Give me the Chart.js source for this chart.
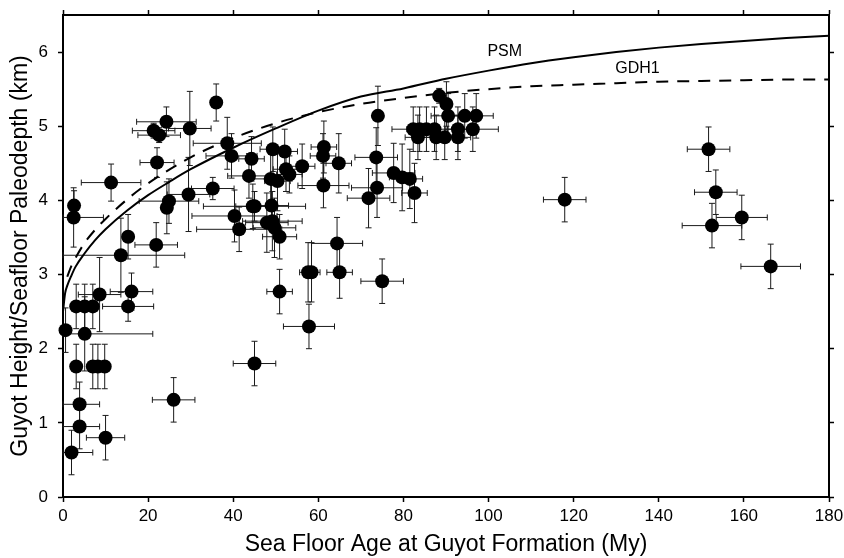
<!DOCTYPE html>
<html>
<head>
<meta charset="utf-8">
<script src="https://cdn.jsdelivr.net/npm/chart.js@4.4.1/dist/chart.umd.min.js"></script>
<style>
    html, body { margin: 0; padding: 0; background: #fff; }
</style>
</head>
<body>
<canvas id="guyotChart" width="844" height="558"></canvas>
<script>
// guyot data
const ages = [0.6, 2.0, 3.9, 3.9, 10.0, 3.1, 7.0, 8.2, 9.8, 5.1,
    3.1, 5.1, 7.0, 15.3, 8.6, 16.1, 13.6, 15.3, 21.9, 2.6,
    2.5, 11.3, 21.3, 22.6, 22.1, 24.3, 24.9, 24.4, 29.8, 29.5,
    26.0, 36.0, 35.2, 38.6, 39.6, 40.3, 41.4, 45.0, 43.7, 44.3,
    49.3, 52.1, 52.4, 53.2, 48.8, 50.4, 56.2, 61.3, 61.1, 64.8,
    61.2, 44.6, 49.0, 47.9, 49.2, 49.7, 50.9, 64.4, 57.6, 58.4,
    65.0, 50.9, 57.8, 45.0, 75.0, 74.0, 73.6, 77.7, 79.7, 81.5,
    73.8, 71.8, 82.6, 88.4, 90.1, 90.5, 94.4, 97.1, 82.3, 83.8,
    85.4, 87.3, 92.8, 96.3, 83.4, 87.7, 89.7, 92.8, 117.9, 151.7,
    153.4, 152.5, 159.5, 166.3];
const depths = [2.25, 0.60, 0.95, 1.25, 0.80, 1.76, 1.76, 1.76, 1.76, 2.20,
    2.57, 2.57, 2.57, 2.57, 2.73, 2.77, 3.26, 3.51, 3.40, 3.93,
    3.77, 4.24, 4.94, 4.88, 4.51, 5.06, 3.99, 3.90, 4.97, 4.08,
    1.31, 5.32, 4.16, 4.77, 4.60, 3.79, 3.61, 3.92, 4.33, 4.56,
    4.69, 4.66, 4.42, 4.35, 4.29, 4.26, 4.46, 4.72, 4.60, 4.50,
    4.20, 3.92, 3.93, 3.70, 3.72, 3.63, 3.51, 3.42, 3.03, 3.03,
    3.03, 2.77, 2.30, 1.80, 2.91, 5.14, 4.58, 4.37, 4.31, 4.29,
    4.17, 4.03, 4.10, 5.41, 5.30, 5.14, 5.14, 5.14, 4.96, 4.96,
    4.96, 4.96, 4.96, 4.96, 4.85, 4.85, 4.85, 4.85, 4.01, 4.69,
    4.11, 3.66, 3.77, 3.11];
const ageErr = [0, 5.0, 4.7, 4.7, 4.5, 0, 0, 0, 0, 16,
    0, 0, 0, 6, 5, 5, 15, 0, 5, 0,
    7, 7, 5, 5, 4, 7, 7, 0, 5, 5,
    5, 0, 5, 8, 6, 10, 10, 12, 5, 3,
    3, 3, 3, 3, 5, 3, 3, 3, 3, 3,
    6, 4, 4, 5, 7, 5, 4, 6, 2, 2,
    3, 3, 6, 5, 5, 0, 5, 5, 3, 3,
    6, 5, 3, 0, 0, 4, 4, 4, 5, 3,
    3, 3, 3, 6, 3, 3, 3, 3, 5, 5,
    5, 7, 6, 7];
const depthErr = [0.3, 0.3, 0.3, 0.3, 0.3, 0.3, 0.3, 0.3, 0.3, 0.5,
    0.3, 0.3, 0.3, 0.2, 0.5, 0.25, 0.5, 0.3, 0.3, 0.2,
    0.4, 0.25, 0.1, 0.1, 0.2, 0.2, 0.3, 0.35, 0.5, 0.5,
    0.3, 0.25, 0.15, 0.35, 0.3, 0.35, 0.3, 0.2, 0.3, 0.3,
    0.3, 0.3, 0.3, 0.25, 0.35, 0.4, 0.3, 0.35, 0.3, 0.4,
    0.3, 0.3, 0.3, 0.4, 0.4, 0.4, 0.3, 0.35, 0.4, 0.4,
    0.35, 0.3, 0.3, 0.3, 0.3, 0.4, 0.4, 0.4, 0.45, 0.4,
    0.4, 0.4, 0.4, 0.1, 0.3, 0.3, 0.3, 0.3, 0.3, 0.3,
    0.3, 0.3, 0.3, 0.3, 0.3, 0.3, 0.3, 0.3, 0.3, 0.3,
    0.3, 0.3, 0.3, 0.3];

// model curves, also
const psmAge = [0, 0.5, 1, 2, 3, 5, 7.5, 10, 15, 20, 25, 30, 40, 50, 60, 70, 80, 90, 100, 110, 120, 130, 140, 150, 160, 170, 180];
const psmDepth = [2.50, 2.75, 2.85, 2.99, 3.11, 3.28, 3.46, 3.61, 3.86, 4.07, 4.25, 4.42, 4.71, 4.97, 5.21, 5.40, 5.51, 5.64, 5.75, 5.85, 5.93, 6.00, 6.06, 6.11, 6.15, 6.19, 6.22];
const gdhAge = [1, 2, 3, 5, 7.5, 10, 15, 20, 30, 40, 50, 60, 70, 80, 90, 100, 110, 120, 130, 140, 150, 160, 170, 180];
const gdhDepth = [2.97, 3.12, 3.23, 3.42, 3.60, 3.75, 4.01, 4.23, 4.58, 4.84, 5.04, 5.19, 5.30, 5.38, 5.45, 5.50, 5.54, 5.56, 5.58, 5.60, 5.61, 5.62, 5.63, 5.63];

const xTicks = [0, 20, 40, 60, 80, 100, 120, 140, 160, 180];
const yTicks = [0, 1, 2, 3, 4, 5, 6];
const curveNames = ['PSM', 'GDH1'];
const curveLabelAge = [103.8, 135.0];
const curveLabelDepth = [6.0, 5.78];

const FONT = "'Liberation Sans', Arial, sans-serif";

const errorBars = {
    id: 'errorBars',
    beforeDatasetsDraw(chart) {
        const xs = chart.scales.x, ys = chart.scales.y;
        const ctx = chart.ctx;
        const cap = 3;
        ctx.save();
        ctx.strokeStyle = '#1a1a1a';
        ctx.lineWidth = 1;
        ages.forEach((a, i) => {
            const px = xs.getPixelForValue(a);
            const py = ys.getPixelForValue(depths[i]);
            ctx.beginPath();
            if (ageErr[i] > 0) {
                const x0 = xs.getPixelForValue(Math.max(0, a - ageErr[i]));
                const x1 = xs.getPixelForValue(a + ageErr[i]);
                ctx.moveTo(x0, py); ctx.lineTo(x1, py);
                ctx.moveTo(x0, py - cap); ctx.lineTo(x0, py + cap);
                ctx.moveTo(x1, py - cap); ctx.lineTo(x1, py + cap);
            }
            if (depthErr[i] > 0) {
                const y0 = ys.getPixelForValue(depths[i] - depthErr[i]);
                const y1 = ys.getPixelForValue(depths[i] + depthErr[i]);
                ctx.moveTo(px, y0); ctx.lineTo(px, y1);
                ctx.moveTo(px - cap, y0); ctx.lineTo(px + cap, y0);
                ctx.moveTo(px - cap, y1); ctx.lineTo(px + cap, y1);
            }
            ctx.stroke();
        });
        ctx.restore();
    },
    afterDatasetsDraw(chart) {
        const xs = chart.scales.x, ys = chart.scales.y;
        const ctx = chart.ctx;
        ctx.save();
        ctx.fillStyle = '#000';
        ctx.font = '16px ' + FONT;
        ctx.textAlign = 'center';
        ctx.textBaseline = 'middle';
        curveNames.forEach((n, i) => {
            ctx.fillText(n, xs.getPixelForValue(curveLabelAge[i]), ys.getPixelForValue(curveLabelDepth[i]));
        });
        ctx.restore();
    }
};

function axisStyle(extra) {
    return Object.assign({
        type: 'linear',
        border: { display: true, color: '#000', width: 2 },
        grid: { drawOnChartArea: false, drawTicks: true, tickLength: 5, tickWidth: 1.5, tickColor: '#000' },
    }, extra);
}

// fixed box sizes so the plot frame lands where the figure has it
function boxSize(w, h) {
    return s => {
        if (w !== null) s.width = w;
        if (h !== null) s.height = h;
        s.paddingTop = 0; s.paddingBottom = 0;
        s.paddingLeft = 0; s.paddingRight = 0;
    };
}

const blank = () => '';

new Chart(document.getElementById('guyotChart'), {
    type: 'scatter',
    data: {
        datasets: [
            {
                data: ages.map((a, i) => ({ x: a, y: depths[i] })),
                backgroundColor: '#000',
                borderWidth: 0,
                pointRadius: 7,
                pointHoverRadius: 7,
                clip: false,
                order: 0
            },
            {
                data: psmAge.map((a, i) => ({ x: a, y: psmDepth[i] })),
                showLine: true,
                borderColor: '#000',
                borderWidth: 2,
                pointRadius: 0,
                cubicInterpolationMode: 'monotone',
                order: 1
            },
            {
                data: gdhAge.map((a, i) => ({ x: a, y: gdhDepth[i] })),
                showLine: true,
                borderColor: '#000',
                borderWidth: 2,
                borderDash: [12, 9],
                pointRadius: 0,
                cubicInterpolationMode: 'monotone',
                order: 1
            }
        ]
    },
    options: {
        responsive: false,
        animation: false,
        layout: { padding: 0, autoPadding: false },
        scales: {
            x: axisStyle({
                position: 'bottom', min: 0, max: 180,
                afterBuildTicks: s => { s.ticks = xTicks.map(v => ({ value: v })); },
                afterFit: boxSize(null, 61),
                ticks: { color: '#000', padding: 4, maxRotation: 0, font: { family: FONT, size: 17 } },
                title: { display: true, text: 'Sea Floor Age at Guyot Formation (My)', color: '#000', padding: 0, font: { family: FONT, size: 23 } }
            }),
            x2: axisStyle({
                position: 'top', min: 0, max: 180,
                afterBuildTicks: s => { s.ticks = xTicks.map(v => ({ value: v })); },
                afterFit: boxSize(null, 15),
                ticks: { callback: blank }
            }),
            y: axisStyle({
                position: 'left', min: 0, max: 6.5,
                afterBuildTicks: s => { s.ticks = yTicks.map(v => ({ value: v })); },
                afterFit: boxSize(63, null),
                ticks: { color: '#000', padding: 10, font: { family: FONT, size: 17 } },
                title: { display: true, text: 'Guyot Height/Seafloor Paleodepth (km)', color: '#000', padding: { top: 7, bottom: 0 }, font: { family: FONT, size: 23 } }
            }),
            y2: axisStyle({
                position: 'right', min: 0, max: 6.5,
                afterBuildTicks: s => { s.ticks = yTicks.map(v => ({ value: v })); },
                afterFit: boxSize(15, null),
                ticks: { callback: blank }
            })
        },
        plugins: {
            legend: { display: false },
            tooltip: { enabled: false }
        }
    },
    plugins: [errorBars]
});
</script>
</body>
</html>
